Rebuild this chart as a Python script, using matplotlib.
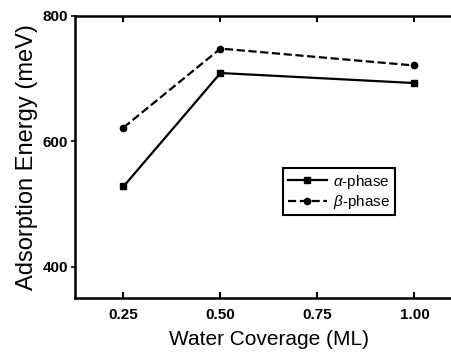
import numpy as np
import matplotlib.pyplot as plt

coverage = [0.25, 0.50, 1.00]
alpha_energy = [528, 709, 693]
beta_energy = [622, 748, 721]
xticks = [0.25, 0.50, 0.75, 1.00]
yticks = [400, 600, 800]

plt.rcParams['font.family'] = ['Liberation Sans', 'DejaVu Sans']
plt.rcParams['mathtext.fontset'] = 'custom'
plt.rcParams['mathtext.it'] = 'Liberation Sans:italic'

fig = plt.figure(figsize=(4.51, 3.53), dpi=100)
ax = fig.add_axes([0.1663, 0.1558, 1.0264 - 0.1663, 0.9547 - 0.1558])

ax.plot(coverage, alpha_energy, 'k-', marker='s', markersize=4.5, lw=1.6, label=r'$\alpha$-phase')
ax.plot(coverage, beta_energy, 'k--', marker='o', markersize=4.5, lw=1.6, label=r'$\beta$-phase')

ax.set_xlim(0.125, 1.125)
ax.set_ylim(350, 800)
ax.set_xticks(xticks)
ax.set_xticklabels(['%.2f' % t for t in xticks], fontweight='bold', fontsize=11)
ax.set_yticks(yticks)
ax.set_yticklabels([str(t) for t in yticks], fontweight='bold', fontsize=11)

for s in ['left', 'bottom', 'top']:
    ax.spines[s].set_linewidth(1.8)
ax.spines['right'].set_visible(False)

ax.tick_params(axis='x', direction='in', top=True, length=4, width=1.5, pad=7)
ax.tick_params(axis='y', direction='out', length=3, width=1.2, pad=2)

ax.set_xlabel('Water Coverage (ML)', fontsize=15, labelpad=6)
ax.set_ylabel('Adsorption Energy (meV)', fontsize=17, labelpad=3)

leg = ax.legend(loc='upper left', bbox_to_anchor=(283 / 451, 1 - 168 / 353),
                bbox_transform=fig.transFigure, fancybox=False, framealpha=1,
                edgecolor='black', fontsize=11, handlelength=2.6,
                borderpad=0.3, labelspacing=0.15, handletextpad=0.4, borderaxespad=0)
leg.get_frame().set_linewidth(1.5)

fig.savefig('out.png', dpi=100)
